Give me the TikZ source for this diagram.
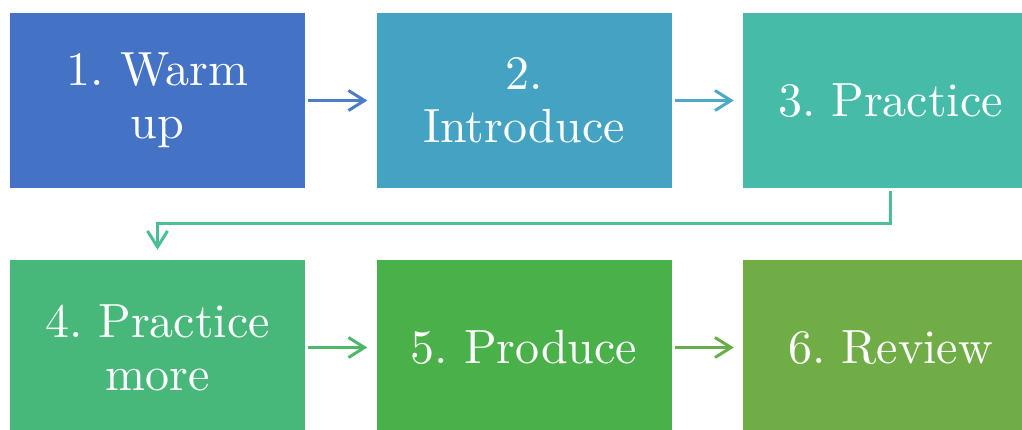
\documentclass[tikz,border=0pt]{standalone}
\usepackage{fontspec}
\newfontfamily\stepfont{lmroman10-regular.otf}
\usetikzlibrary{arrows.meta}

\definecolor{stepA}{HTML}{4472C4}
\definecolor{stepB}{HTML}{44A3C3}
\definecolor{stepC}{HTML}{46BBA8}
\definecolor{stepD}{HTML}{47B87A}
\definecolor{stepE}{HTML}{4AB04A}
\definecolor{stepF}{HTML}{70AD47}
\definecolor{linkA}{HTML}{4A7CC8}
\definecolor{linkB}{HTML}{4BAAC6}
\definecolor{linkC}{HTML}{4CBE93}
\definecolor{linkD}{HTML}{4EB86A}
\definecolor{linkE}{HTML}{67AE4A}

\tikzset{
  stepbox/.style={rectangle, fill=#1, inner sep=0pt,
    minimum width=295pt, minimum height=175pt,
    text=white, align=center,
    font=\stepfont\frenchspacing\fontsize{48pt}{53pt}\selectfont},
  link/.style={draw=#1, line width=3pt,
    -{Straight Barb[length=16pt,width=20pt,line width=3pt]}}
}

\begin{document}
\begin{tikzpicture}[x=1pt, y=-1pt]
  \useasboundingbox (0,0) rectangle (1022,429);
  \clip (0,0) rectangle (1022,429);

  % first row
  \node[stepbox=stepA] (s1) at (157.5,100.5) {1. Warm\\up};
  \node[stepbox=stepB] (s2) at (524,100.5) {2.\\Introduce};
  \node[stepbox=stepC] (s3) at (890.5,100.5) {3. Practice};

  % second row
  \node[stepbox=stepD] (s4) at (157.5,347.5) {4. Practice\\more};
  \node[stepbox=stepE] (s5) at (524,347.5) {5. Produce};
  \node[stepbox=stepF] (s6) at (890.5,347.5) {6. Review};

  % connectors
  \draw[link=linkA, shorten <=3pt, shorten >=9pt] (s1.east) -- (s2.west);
  \draw[link=linkB, shorten <=3pt, shorten >=9pt] (s2.east) -- (s3.west);
  \coordinate (bendR) at (890.5,223);
  \coordinate (bendL) at (157.5,223);
  \draw[link=linkC, shorten <=3pt, shorten >=10pt]
    (s3.south) -- (bendR) -- (bendL) -- (s4.north);
  \draw[link=linkD, shorten <=3pt, shorten >=9pt] (s4.east) -- (s5.west);
  \draw[link=linkE, shorten <=3pt, shorten >=9pt] (s5.east) -- (s6.west);
\end{tikzpicture}
\end{document}
